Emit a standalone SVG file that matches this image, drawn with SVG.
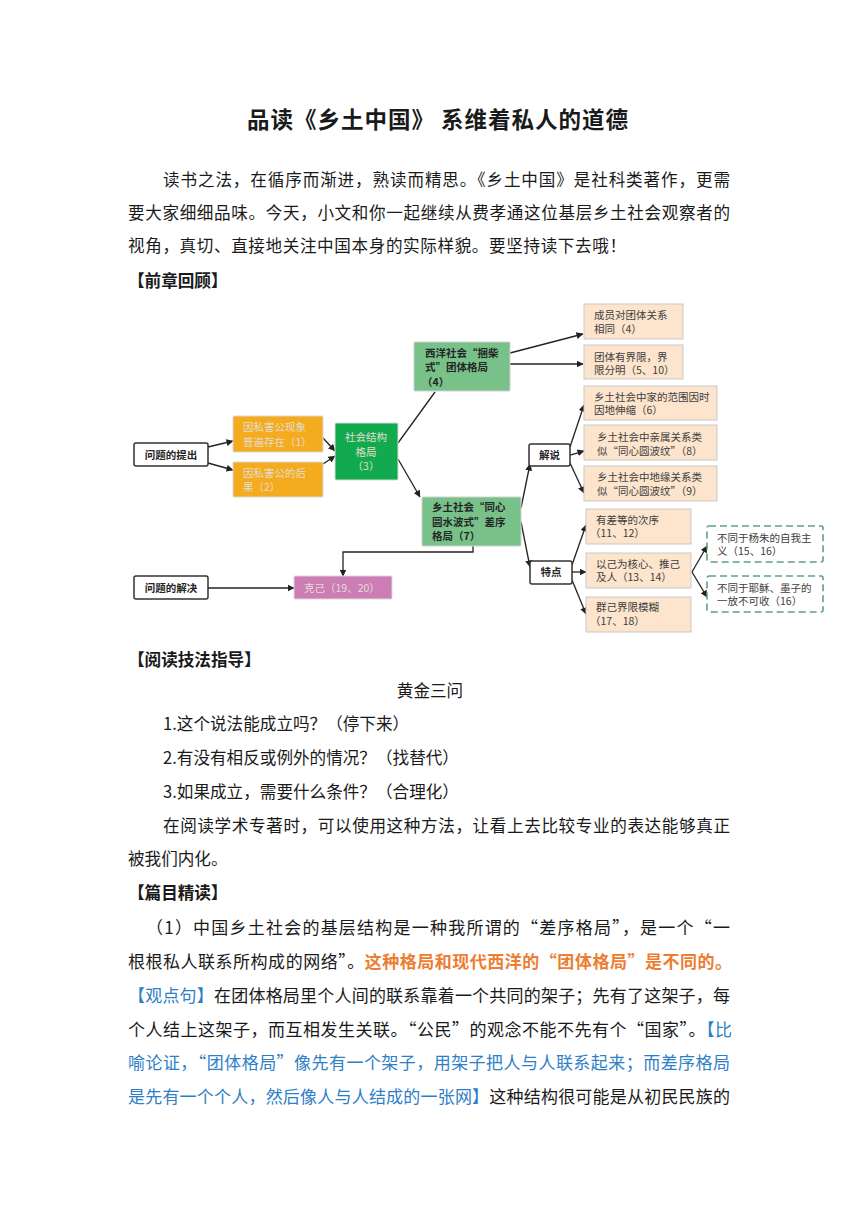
<svg xmlns="http://www.w3.org/2000/svg" width="860" height="1216" viewBox="0 0 860 1216">
<defs>
<marker id="ah" markerWidth="7" markerHeight="7" refX="6.5" refY="3.5" orient="auto" markerUnits="userSpaceOnUse">
<path d="M0,0 L7,3.5 L0,7 Z" fill="#222"/>
</marker>
<style>
.t{font-family:"Noto Sans CJK SC","Noto Sans",sans-serif;fill:#1a1a1a}
.title{font-size:22.5px;font-weight:bold}
.body{font-size:16.6px}
.p2{font-size:17px}
.hd{font-size:16.6px;font-weight:bold}
.orange{fill:#ED7D31;font-weight:bold}
.blue{fill:#2E80C6}
.bx{font-family:"Noto Sans CJK SC","Noto Sans",sans-serif;font-size:10.5px;fill:#404040}
.bb{font-family:"Noto Sans CJK SC","Noto Sans",sans-serif;font-size:10.5px;font-weight:bold;fill:#262626}
.lt{font-family:"Noto Sans CJK SC","Noto Sans",sans-serif;font-size:10.5px;fill:#E4DDD2}
.whitebox{fill:#fff;stroke:#333;stroke-width:1.5}
.org{fill:#F5AB1E;stroke:#D9D9D9;stroke-width:1}
.dg{fill:#12AA4E;stroke:#D9D9D9;stroke-width:1}
.lg{fill:#78C28A;stroke:#D0D0D0;stroke-width:1}
.peach{fill:#FCE4CD;stroke:#C9C9C9;stroke-width:1}
.dash{fill:#fff;stroke:#5BA37C;stroke-width:1.6;stroke-dasharray:7 4}
.pink{fill:#CC7DB6;stroke:#D9D9D9;stroke-width:1}
.c{fill:none;stroke:#222;stroke-width:1.3}
.ca{fill:none;stroke:#222;stroke-width:1.3;marker-end:url(#ah)}
</style>
</defs>
<rect width="860" height="1216" fill="#fff"/>

<!-- page text -->
<g id="page-text">
<text class="t title" x="247" y="128" textLength="381" lengthAdjust="spacing">品读《乡土中国》 系维着私人的道德</text>
<text class="t body" x="163" y="186" textLength="567" lengthAdjust="spacing">读书之法，在循序而渐进，熟读而精思。《乡土中国》是社科类著作，更需</text>
<text class="t body" x="128" y="219" textLength="602" lengthAdjust="spacing">要大家细细品味。今天，小文和你一起继续从费孝通这位基层乡土社会观察者的</text>
<text class="t body" x="128" y="252" textLength="498" lengthAdjust="spacing">视角，真切、直接地关注中国本身的实际样貌。要坚持读下去哦！</text>
<text class="t hd" x="128" y="287">【前章回顾】</text>
<text class="t hd" x="128" y="666">【阅读技法指导】</text>
<text class="t body" x="430" y="697" text-anchor="middle">黄金三问</text>
<text class="t body" x="163" y="730">1.这个说法能成立吗？（停下来）</text>
<text class="t body" x="163" y="764">2.有没有相反或例外的情况？（找替代）</text>
<text class="t body" x="163" y="798">3.如果成立，需要什么条件？（合理化）</text>
<text class="t body" x="163" y="832" textLength="567" lengthAdjust="spacing">在阅读学术专著时，可以使用这种方法，让看上去比较专业的表达能够真正</text>
<text class="t body" x="128" y="865">被我们内化。</text>
<text class="t hd" x="128" y="899">【篇目精读】</text>
<text class="t p2" x="146" y="934" textLength="584" lengthAdjust="spacing">（1）中国乡土社会的基层结构是一种我所谓的“差序格局”，是一个“一</text>
<text class="t p2" x="128" y="968" textLength="604" lengthAdjust="spacing">根根私人联系所构成的网络”。<tspan class="orange">这种格局和现代西洋的“团体格局”是不同的。</tspan></text>
<text class="t p2" x="128" y="1002" textLength="602" lengthAdjust="spacing"><tspan class="blue">【观点句】</tspan>在团体格局里个人间的联系靠着一个共同的架子；先有了这架子，每</text>
<text class="t p2" x="128" y="1036" textLength="604" lengthAdjust="spacing">个人结上这架子，而互相发生关联。“公民”的观念不能不先有个“国家”。<tspan class="blue">【比</tspan></text>
<text class="t p2 blue" x="128" y="1069" textLength="602" lengthAdjust="spacing">喻论证，“团体格局”像先有一个架子，用架子把人与人联系起来；而差序格局</text>
<text class="t p2" x="128" y="1103" textLength="602" lengthAdjust="spacing"><tspan class="blue">是先有一个个人，然后像人与人结成的一张网】</tspan>这种结构很可能是从初民民族的</text>
</g>

<!-- connectors -->
<g id="connectors">
<path class="ca" d="M208,447 L233,441"/>
<path class="ca" d="M208,463 L233,470"/>
<path class="ca" d="M323,438 L335,451"/>
<path class="ca" d="M323,464 L335,456"/>
<path class="c" d="M398,443 L435,392"/>
<path class="ca" d="M398,459 L420,497"/>
<path class="ca" d="M510,353 L583,334"/>
<path class="ca" d="M510,364 L583,364"/>
<path class="ca" d="M521,508 L530,464"/>
<path class="ca" d="M521,522 L530,567"/>
<path class="ca" d="M570,447 L584,405"/>
<path class="ca" d="M570,455 L584,451"/>
<path class="ca" d="M570,463 L584,493"/>
<path class="ca" d="M572,565 L586,525"/>
<path class="ca" d="M572,572 L586,572"/>
<path class="ca" d="M572,580 L586,614"/>
<path class="ca" d="M692,572 L707,546"/>
<path class="ca" d="M692,572 L707,597"/>
<path class="ca" d="M208,588 L294,588"/>
<path class="ca" d="M473,546 L473,552 L343,552 L343,576"/>
</g>

<g id="n-tichu">
<rect class="whitebox" x="134" y="443" width="74" height="23" rx="2"/>
<text class="bb" x="171" y="459" text-anchor="middle">问题的提出</text>
</g>
<g id="n-jiejue">
<rect class="whitebox" x="134" y="576" width="74" height="23" rx="2"/>
<text class="bb" x="171" y="592" text-anchor="middle">问题的解决</text>
</g>
<g id="n-yinsi1">
<rect class="org" x="233" y="416" width="90" height="36" rx="1"/>
<text class="lt" x="243" y="431">因私害公现象</text>
<text class="lt" x="243" y="446">普遍存在（1）</text>
</g>
<g id="n-yinsi2">
<rect class="org" x="233" y="462" width="90" height="35" rx="1"/>
<text class="lt" x="243" y="477">因私害公的后</text>
<text class="lt" x="243" y="491">果（2）</text>
</g>
<g id="n-shehui">
<rect class="dg" x="335" y="423" width="63" height="57" rx="1"/>
<text class="lt" x="366" y="441" text-anchor="middle">社会结构</text>
<text class="lt" x="366" y="456" text-anchor="middle">格局</text>
<text class="lt" x="366" y="470" text-anchor="middle">（3）</text>
</g>
<g id="n-xiyang">
<rect class="lg" x="414" y="342" width="96" height="49" rx="1"/>
<text class="bb" x="425" y="357">西洋社会“捆柴</text>
<text class="bb" x="425" y="371">式”团体格局</text>
<text class="bb" x="422" y="386">（4）</text>
</g>
<g id="n-xiangtu">
<rect class="lg" x="422" y="497" width="99" height="49" rx="1"/>
<text class="bb" x="432" y="511">乡土社会“同心</text>
<text class="bb" x="432" y="526">圆水波式”差序</text>
<text class="bb" x="432" y="540">格局（7）</text>
</g>
<g id="n-chengyuan">
<rect class="peach" x="584" y="304" width="99" height="35"/>
<text class="bx" x="594" y="319">成员对团体关系</text>
<text class="bx" x="594" y="333">相同（4）</text>
</g>
<g id="n-tuanti">
<rect class="peach" x="584" y="345" width="99" height="34"/>
<text class="bx" x="594" y="361">团体有界限，界</text>
<text class="bx" x="594" y="374">限分明（5、10）</text>
</g>
<g id="n-jieshuo">
<rect class="whitebox" x="529" y="444" width="41" height="22" rx="2"/>
<text class="bb" x="549.5" y="459" text-anchor="middle">解说</text>
</g>
<g id="n-jia">
<rect class="peach" x="584" y="386" width="133" height="34"/>
<text class="bx" x="594" y="401">乡土社会中家的范围因时</text>
<text class="bx" x="594" y="414">因地伸缩（6）</text>
</g>
<g id="n-qinshu">
<rect class="peach" x="584" y="425" width="133" height="35"/>
<text class="bx" x="597" y="441">乡土社会中亲属关系类</text>
<text class="bx" x="597" y="455">似“同心圆波纹”（8）</text>
</g>
<g id="n-diyuan">
<rect class="peach" x="584" y="466" width="133" height="35"/>
<text class="bx" x="597" y="481">乡土社会中地缘关系类</text>
<text class="bx" x="597" y="495">似“同心圆波纹”（9）</text>
</g>
<g id="n-tedian">
<rect class="whitebox" x="530" y="561" width="42" height="23" rx="2"/>
<text class="bb" x="551" y="576" text-anchor="middle">特点</text>
</g>
<g id="n-chadeng">
<rect class="peach" x="586" y="509" width="105" height="35"/>
<text class="bx" x="596" y="524">有差等的次序</text>
<text class="bx" x="590" y="537">（11、12）</text>
</g>
<g id="n-yiji">
<rect class="peach" x="586" y="553" width="105" height="35"/>
<text class="bx" x="596" y="568">以己为核心、推己</text>
<text class="bx" x="596" y="581">及人（13、14）</text>
</g>
<g id="n-qunji">
<rect class="peach" x="586" y="597" width="105" height="35"/>
<text class="bx" x="596" y="611">群己界限模糊</text>
<text class="bx" x="590" y="625">（17、18）</text>
</g>
<g id="n-yangzhu">
<rect class="dash" x="707" y="526" width="116" height="36" rx="2"/>
<text class="bx" x="717" y="542">不同于杨朱的自我主</text>
<text class="bx" x="717" y="555">义（15、16）</text>
</g>
<g id="n-yesu">
<rect class="dash" x="707" y="576" width="116" height="36" rx="2"/>
<text class="bx" x="717" y="592">不同于耶稣、墨子的</text>
<text class="bx" x="717" y="605">一放不可收（16）</text>
</g>
<g id="n-keji">
<rect class="pink" x="294" y="576" width="98" height="23" rx="1"/>
<text class="lt" x="304" y="592">克己（19、20）</text>
</g>
</svg>
